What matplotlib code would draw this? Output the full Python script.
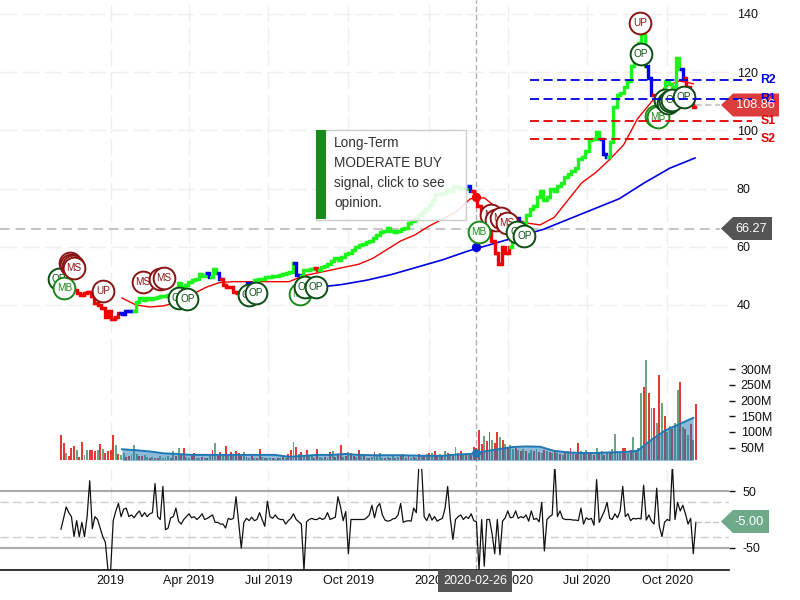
import pandas as pd
import matplotlib
matplotlib.use("Agg")
import matplotlib.pyplot as plt
from matplotlib.patches import Polygon, Rectangle

plt.rcParams["font.family"] = ["Liberation Sans", "DejaVu Sans"]

# price, one reading every 4 days
price_start = "2018-11-05"
price = [
    47, 47, 46, 46, 45, 44, 43.4, 44, 44.4, 43,
    40.5, 40, 39, 36, 38, 35.2, 36, 37.2, 37, 38,
    38, 38, 41, 42.4, 41.8, 42.4, 42, 42.3, 42.8, 43,
    43, 43.5, 43, 44, 47.5, 46.2, 46.8, 47.8, 48.6, 49,
    50.5, 50, 51, 49.5, 52.5, 51, 49, 47, 46, 46,
    44.5, 44, 43.5, 45, 47.5, 47, 48.6, 48.8, 49, 49.5,
    49.6, 50, 50, 50.3, 50.5, 51, 51.3, 54.4, 50.3, 50,
    52, 52, 52.5, 52.7, 52, 53, 53.5, 54, 55, 56,
    55.5, 56.5, 57.5, 58, 59, 60, 60.6, 61, 61.5, 62,
    63, 64, 65, 65.5, 66.5, 65.5, 65, 65.5, 66, 66.5,
    68, 69, 69.5, 71, 72, 73, 74.5, 76, 78, 78,
    78.5, 80, 79, 81, 80.5, 80, 80, 81, 79, 77,
    74, 72, 69, 66, 62, 58, 54, 60, 58, 60,
    66, 70, 68, 67, 71, 73, 74, 77, 79, 76,
    77, 80, 79, 81, 82, 84, 85, 86, 87, 90,
    91, 93, 96.7, 97, 99.4, 97, 92, 91, 96, 108,
    112, 113, 115, 117, 122, 128, 130, 133, 122, 118,
    112, 110, 108, 112, 117, 116, 115, 125, 121, 118, 115, 113, 108,
]
price_colors = (
    "rrrrrrrrrr" "rrrrrrrrbb" "bbgggggggg" "gggggggggg" "gggbggbrrr"
    "rrrrbbgggg" "ggggggggbb" "ggggrggggg" "gggggggggg" "gggggggggg"
    "gggggggggg" "ggggggggbr" "rrrrrrrrrr" "ggbggggggg" "gggggggggg"
    "ggggggbbgg" "gggggggggb" "brrrgggggbrrr"
)
color_names = {"g": "#1cf51c", "r": "#f00000", "b": "#0000f0"}

# moving averages
ma_red_start = "2019-01-14"
ma_red = [
    42.4, 40, 39.3, 39.7, 41, 43.5, 46, 47.7, 48, 48, 48, 48, 48, 50,
    51, 52, 53, 54, 56, 59, 62, 64, 67, 69.5, 72, 76.5, 76.8, 73, 70,
    68.2, 67.5, 70, 76, 82, 85.5, 90, 95, 104, 109.8, 115, 117, 116,
]
ma_blue_start = "2019-08-25"
ma_blue = [46, 47, 48.5, 50.5, 53, 55.5, 58.5, 61, 63.5, 66, 69.5, 73, 76.5, 82, 87, 90.5]

# support and resistance
level_names = ["R2", "R1", "S1", "S2"]
level_values = [117.3, 110.8, 103.2, 96.9]
level_colors = ["#0000e0", "#0000e0", "#e00000", "#e00000"]

# signal bubbles
signal_labels = [
    "OP", "MB", "MS", "MS", "MS", "MS", "UP", "MS", "MS", "MS", "OP", "OP", "OP", "OP",
    "MB", "OP", "OP", "MS", "MS", "MS", "MS", "MB", "OP", "OP", "UP", "OP", "MB", "MB",
    "OP", "OP", "OP", "OP", "OP",
]
signal_dates = [
    "2018-11-03", "2018-11-09", "2018-11-15", "2018-11-17", "2018-11-19", "2018-11-20",
    "2018-12-23", "2019-02-07", "2019-02-27", "2019-03-03", "2019-03-20", "2019-03-30",
    "2019-06-09", "2019-06-17", "2019-08-06", "2019-08-12", "2019-08-25", "2020-03-13",
    "2020-03-19", "2020-03-24", "2020-03-31", "2020-02-28", "2020-04-12", "2020-04-20",
    "2020-08-31", "2020-09-01", "2020-09-18", "2020-09-20", "2020-09-28", "2020-10-02",
    "2020-10-04", "2020-10-07", "2020-10-20",
]
signal_prices = [
    48.9, 45.8, 54.3, 53.9, 53.4, 52.6, 44.8, 48, 48.9, 49.2, 42.3, 42, 43.4, 44,
    43.7, 46.1, 46.3, 70.9, 69.2, 69.9, 68.3, 65, 65, 63.7, 136.8, 126.3, 105, 104.6,
    110.4, 109.4, 110, 110.4, 111.3,
]
signal_colors = {"MS": "#8a1414", "UP": "#8a1414", "OP": "#0c4f14", "MB": "#1a8a1a"}

# volume in millions, one bar every 3 days
volume_start = "2018-11-05"
volume = [
    90, 65, 33, 25, 49, 55, 43, 20, 68, 27, 44, 44, 42, 40, 44, 61, 45, 33, 38, 44,
    90, 57, 30, 28, 32, 20, 25, 28, 60, 30, 24, 22, 26, 20, 18, 20, 18, 16, 22, 16,
    20, 22, 18, 40, 25, 49, 28, 49, 20, 18, 22, 33, 16, 18, 20, 16, 18, 24, 44, 65,
    30, 36, 25, 55, 24, 36, 30, 40, 34, 22, 36, 20, 18, 24, 18, 16, 46, 20, 16, 18,
    18, 16, 14, 18, 16, 20, 18, 30, 42, 68, 52, 30, 36, 26, 44, 22, 26, 18, 46, 20,
    18, 20, 16, 36, 38, 20, 28, 58, 20, 24, 36, 34, 22, 20, 42, 22, 24, 18, 16, 20,
    36, 24, 34, 18, 16, 20, 18, 22, 16, 20, 24, 30, 18, 28, 16, 20, 18, 30, 22, 26,
    30, 34, 32, 40, 28, 30, 26, 38, 34, 30, 24, 52, 34, 40, 30, 28, 32, 26, 52, 50,
    106, 62, 88, 70, 100, 74, 66, 100, 84, 76, 62, 52, 58, 46, 50, 42, 38, 46, 40, 34,
    44, 40, 46, 36, 34, 42, 38, 36, 32, 38, 34, 30, 28, 36, 40, 48, 34, 30, 65, 38,
    36, 42, 30, 34, 28, 48, 32, 38, 28, 36, 34, 46, 94, 40, 36, 50, 48, 34, 42, 84,
    36, 50, 225, 243, 329, 225, 177, 175, 130, 281, 192, 150, 100, 120, 110, 130, 234, 259, 115, 108,
    90, 125, 75, 189,
]
volume_colors = (
    "rrgrrrgrrggrrrgrgrrr" "rgrggrrgggrrggrgrrgg" "ggrgrgrrggrrggrgrgrg"
    "rrgrgrgrrrgrgrgrrgrg" "grgrgrgrrgrgrgrggrrg" "grgrgrrrgrgrrgrgrgrg"
    "rgggrgrgrgrgrrgrgrgr" "grgrrgrgrgrgrrgrgrrr" "rrgrrgrrgrgrggrgrgrg"
    "grgrgrgrgrgrgrgrgrrg" "rgrgrgrgrgrggrgrrgrg" "rggrgrgrgrgrggrggrgr"
    "grgr"
)
bar_names = {"g": "#6aa583", "r": "#e53935"}
volume_ma = [
    45, 42, 38, 32, 30, 27, 27, 27, 27, 27, 27, 27, 21, 24,
    27, 27, 30, 27, 26, 26, 26, 25, 24, 24, 28, 30, 38, 45, 52,
    54, 53, 40, 35, 33, 33, 35, 36, 40, 75, 105, 125, 145,
]

# oscillator, one reading every 3 days
oscillator = [
    -17, 2, 22, 12, 5, -30, -2, -30, -5, -30, 5, 68, -16, 5, 0, -15, -30, -40, -89, -89,
    -2, 15, 28, 5, 18, 20, 5, 8, 3, 10, 15, 5, 12, 5, 10, 12, 63, 5, 0, 58,
    -18, -15, 3, 5, 20, -3, -8, 0, 5, 10, 3, 5, 0, 4, 10, 0, 2, 5, 8, -5,
    -5, -8, -8, -15, 2, 0, 2, 40, -5, -50, -5, 2, -2, 4, -2, 0, 12, 0, -12, 32,
    5, 2, 8, 2, 0, 0, -8, -2, 2, 10, 0, -4, -8, -89, -4, 0, 2, 0, 0, 3,
    0, 2, 12, 0, 2, 4, 40, 22, -2, 14, -60, 0, 0, 0, 0, 0, 0, 3, 8, 25,
    3, 22, 28, 8, -1, -3, -2, 1, 2, 8, 28, -5, -3, -2, -3, 20, 12, 96, 96, 5,
    -2, 10, -1, 5, -3, 0, 2, 20, 58, 2, -35, 0, 5, 8, 0, 5, 2, 10, -2, -4,
    -89, 0, -82, 0, 0, -25, -60, 0, -62, -3, 3, 15, 3, 4, 15, 2, 5, 3, 8, -3,
    15, 0, 2, -4, 30, -55, 0, 5, 8, 96, 5, 15, 2, 0, 0, 0, -1, -1, -2, 20,
    -8, 3, 0, 2, -10, 70, -5, 5, 15, 30, 2, 0, 10, 3, 15, 58, 5, 10, -2, 2,
    1, 2, 1, 60, -1, 8, -3, -8, 55, -12, -30, -5, 0, -2, 96, 0, 30, 15, 25, 10,
    -8, 2, -60, -5,
]

# axis labels
tick_dates = ["2019-01-01", "2019-04-01", "2019-07-01", "2019-10-01",
              "2020-01-01", "2020-04-01", "2020-07-01", "2020-10-01"]
tick_labels = ["2019", "Apr 2019", "Jul 2019", "Oct 2019", "2020", "Apr 2020", "Jul 2020", "Oct 2020"]
price_ticks = [40, 60, 80, 100, 120, 140]
volume_ticks = [50, 100, 150, 200, 250, 300]
volume_tick_labels = ["50M", "100M", "150M", "200M", "250M", "300M"]
osc_ticks = [-50, 50]
osc_tick_labels = ["-50", "50"]

last_price = 108.86
cross_price = 66.27
last_osc = -5.0
cross_label = "2020-02-26"
cross_date = pd.Timestamp("2020-02-24")  # axis is really trading days, sits 2 days left of calendar
cross_ma = 60
cross_volume = 33

price_dates = pd.date_range(price_start, periods=len(price), freq="4D")
red_dates = pd.date_range(ma_red_start, periods=len(ma_red), freq="16D")
blue_dates = pd.date_range(ma_blue_start, periods=len(ma_blue), freq="29D")
volume_dates = pd.date_range(volume_start, periods=len(volume), freq="3D")
vol_ma_dates = pd.date_range(ma_red_start, periods=len(volume_ma), freq="16D")
ticks_x = pd.to_datetime(tick_dates)
tag_end = pd.Timestamp("2020-12-01")
level_start = pd.Timestamp("2020-04-26")
level_end = pd.Timestamp("2021-01-06")
level_text_x = pd.Timestamp("2021-01-16")

W, H = 800.0, 600.0
RIGHT = 729.0


def panel(top, bottom):
    return [0, 1 - bottom / H, RIGHT / W, (bottom - top) / H]


fig = plt.figure(figsize=(8, 6), dpi=100, facecolor="white")

# tag shapes lie under the chart, their text on top of it
back = fig.add_axes([0, 0, 1, 1], zorder=1)
front = fig.add_axes([0, 0, 1, 1], zorder=5)
for a in (back, front):
    a.set_xlim(0, W)
    a.set_ylim(H, 0)
    a.axis("off")
    a.patch.set_visible(False)

ax = fig.add_axes(panel(0, 355), zorder=2)
ax_vol = fig.add_axes(panel(355, 460), sharex=ax, zorder=2)
ax_osc = fig.add_axes(panel(469, 570), sharex=ax, zorder=2)

for a in (ax, ax_vol, ax_osc):
    a.patch.set_visible(False)
    for s in a.spines.values():
        s.set_visible(False)
    a.yaxis.tick_right()
    a.set_axisbelow(True)
    a.grid(axis="x", color="#eeeeee", linewidth=1, linestyle=(0, (12, 4)))
    a.set_xticks(ticks_x)

# price panel
ax.set_xlim(pd.Timestamp("2018-08-27"), pd.Timestamp("2020-12-11"))
ax.set_ylim(22.8, 144.8)
ax.set_yticks(price_ticks)
ax.grid(axis="y", color="#eeeeee", linewidth=1, linestyle=(0, (12, 4)))
ax.tick_params(axis="y", length=0, pad=5.5, labelsize=9, labelcolor="#111111")
ax.tick_params(axis="x", length=0, labelbottom=False)

ax.axhline(cross_price, xmax=720 / RIGHT, color="#c4c4c4", linewidth=1.4, linestyle=(0, (5, 3)))
ax.axvline(cross_date, ymin=-215 / 355, ymax=1, color="#b0b0b0", linewidth=1, linestyle=(0, (4, 2)),
           clip_on=False, zorder=1.5)

ax.plot(red_dates, ma_red, color="#f00000", linewidth=1.0, zorder=2)
ax.plot(blue_dates, ma_blue, color="#0000e0", linewidth=1.2, zorder=2)

for i in range(1, len(price)):
    ax.plot(price_dates[i - 1:i + 1], price[i - 1:i + 1], color=color_names[price_colors[i]],
            linewidth=2.4, drawstyle="steps-mid", solid_joinstyle="miter", zorder=3)

ax.plot([price_dates[-1], tag_end], [last_price, last_price], color="#c4c4c4", linewidth=1.2,
        linestyle=(0, (4, 2)), clip_on=False)

for name, val, col in zip(level_names, level_values, level_colors):
    ax.plot([level_start, level_end], [val, val], color=col, linewidth=1.3, linestyle=(0, (5, 2.5)),
            clip_on=False, zorder=6)
    ax.text(level_text_x, val, name, color=col, fontsize=8.8, fontweight="bold", va="center",
            ha="left", clip_on=False, zorder=6)

ax.scatter([cross_date], [price[119]], s=32, color="#f00000", zorder=4)
ax.scatter([cross_date], [cross_ma], s=32, color="#0000e0", zorder=4)

for k, (lab, d, p) in enumerate(zip(signal_labels, signal_dates, signal_prices)):
    c = signal_colors[lab]
    ax.scatter([pd.Timestamp(d)], [p], s=245, facecolor="white", edgecolor=c, linewidth=1.4, zorder=5 + k * 0.01)
    ax.text(pd.Timestamp(d), p, lab, color=c, fontsize=7.2, ha="center", va="center", zorder=5 + k * 0.01)

# volume panel
ax_vol.set_ylim(10.8, 345)
ax_vol.bar(volume_dates, volume, width=2.2, color=[bar_names[c] for c in volume_colors], linewidth=0)
ax_vol.fill_between(vol_ma_dates, 0, volume_ma, color="#1f77b4", alpha=0.5, linewidth=0)
ax_vol.plot(vol_ma_dates, volume_ma, color="#1f77b4", linewidth=1.4)
ax_vol.scatter([cross_date], [cross_volume], s=28, color="#1f77b4", zorder=4)
ax_vol.set_yticks(volume_ticks)
ax_vol.set_yticklabels(volume_tick_labels)
ax_vol.tick_params(axis="y", length=4, width=1, pad=4.5, labelsize=9, labelcolor="#111111", color="#111111")
ax_vol.tick_params(axis="x", length=0, labelbottom=False)

# oscillator panel
ax_osc.set_ylim(-88.6, 88.6)
for v in osc_ticks:
    ax_osc.axhline(v, color="#aaaaaa", linewidth=1.5)
for v in [-30, 30]:
    ax_osc.axhline(v, color="#cccccc", linewidth=1, linestyle=(0, (6, 3)))
ax_osc.plot(volume_dates, oscillator, color="#111111", linewidth=0.9)
ax_osc.plot([volume_dates[-1], tag_end], [last_osc, last_osc], color="#c4c4c4", linewidth=1,
            linestyle=(0, (4, 2)))
ax_osc.spines["bottom"].set_visible(True)
ax_osc.spines["bottom"].set_color("#111111")
ax_osc.spines["bottom"].set_linewidth(1.2)
ax_osc.set_yticks(osc_ticks)
ax_osc.set_yticklabels(osc_tick_labels)
ax_osc.tick_params(axis="y", length=4, width=1, pad=5.5, labelsize=9, labelcolor="#111111", color="#111111")
ax_osc.tick_params(axis="x", length=0, pad=3.5, labelsize=9, labelcolor="#111111")
ax_osc.set_xticklabels(tick_labels)


def tag(y, x_end, color):
    h = 11.5
    back.add_patch(Polygon([(721, y), (733, y - h), (x_end, y - h), (x_end, y + h), (733, y + h)],
                           closed=True, facecolor=color, edgecolor="none"))


tag(105, 779, "#dd3c3c")
tag(228.5, 772, "#555555")
tag(521.5, 769, "#6ea98a")
front.text(755, 105, "108.86", color="white", fontsize=9.2, ha="center", va="center")
front.text(751, 228.5, "66.27", color="white", fontsize=9.2, ha="center", va="center")
front.text(749, 522, "-5.00", color="white", fontsize=9.2, ha="center", va="center")

front.add_patch(Rectangle((438, 570), 74, 22, facecolor="#555555", edgecolor="none"))
front.text(475, 580.5, cross_label, color="white", fontsize=9, ha="center", va="center")

# opinion box
front.add_patch(Rectangle((315.5, 129.5), 150, 90, facecolor="white", alpha=0.88, edgecolor="none"))
front.add_patch(Rectangle((315.5, 129.5), 150, 90, facecolor="none", edgecolor="#cccccc", linewidth=1))
front.add_patch(Rectangle((316, 130), 10, 89, facecolor="#1a8a1a", edgecolor="none"))
box_lines = ["Long-Term", "MODERATE BUY", "signal, click to see", "opinion."]
for n, line in enumerate(box_lines):
    front.text(334, 143 + n * 20, line, color="#333333", fontsize=9.85, ha="left", va="center")

fig.savefig("out.png", dpi=100)
